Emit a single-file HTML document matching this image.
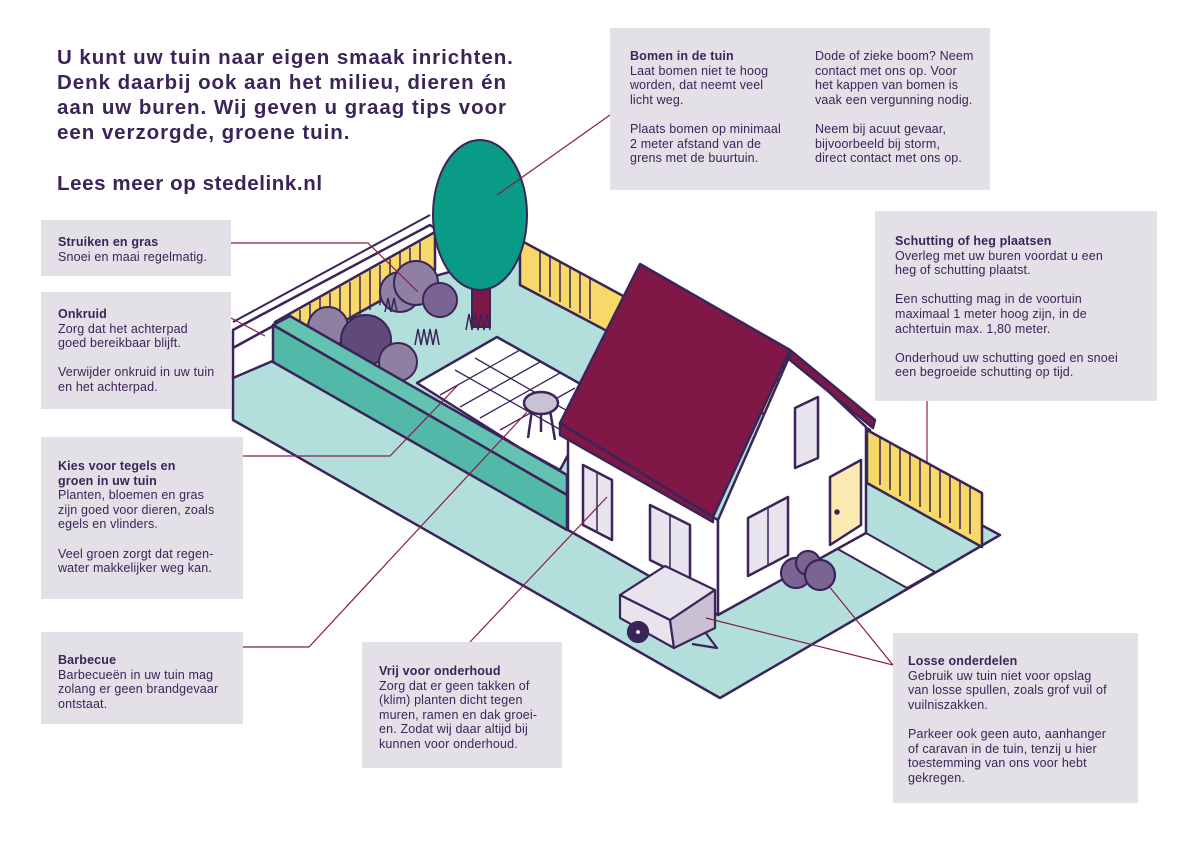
<!DOCTYPE html>
<html><head><meta charset="utf-8"><style>
body{margin:0;width:1191px;height:843px;background:#fff;position:relative;overflow:hidden;font-family:"Liberation Sans",sans-serif;color:#3b2458}
.b{position:absolute;background:#e3e0e8;font-size:12.5px;line-height:14.6px;padding:0 0 0 17px;box-sizing:border-box;white-space:nowrap;letter-spacing:0.15px}
.b b{font-weight:bold}
.b p{margin:0 0 14.6px 0}
h1{position:absolute;left:57px;top:45px;margin:0;font-size:20.5px;line-height:25px;font-weight:bold;color:#3b2458;white-space:nowrap;letter-spacing:0.95px}
.lees{position:absolute;left:57px;top:172px;font-size:20.5px;font-weight:bold;letter-spacing:0.6px}
svg{position:absolute;left:0;top:0}
</style></head><body>
<svg width="1191" height="843" viewBox="0 0 1191 843">
<g stroke="#3b2458" stroke-width="2.5" stroke-linejoin="round">
<polygon points="233,375 233,420 720,698 1000,535 985,527 520,252 280,320" fill="#b2dfdb"/>
<polygon points="233,330 430,225 440,232 275,325 233,348" fill="#fff"/>
<polygon points="233,348 275,325 275,360 233,378" fill="#fff"/>
<line x1="233" y1="322" x2="430" y2="215" stroke-width="2"/>
<polygon points="275,322 435,232 435,270 275,360" fill="#f7d96a"/>
<polygon points="520,240 870,430 870,470 520,285" fill="#f7d96a"/>
<polygon points="867,430 982,493 982,547 867,483" fill="#f7d96a"/>
<polygon points="836,548 866,533 935,572 907,588" fill="#fff" stroke-width="2"/>
</g>
<g stroke="#3b2458" stroke-width="1.5">
<path d="M290,315v40M300,310v40M310,304v40M320,298v40M330,293v40M340,287v40M350,282v40M360,276v40M370,270v40M380,265v40M390,259v40M400,253v40M410,248v40M420,242v40"/>
<path d="M540,252v40M550,257v40M560,262v40M570,268v40M580,273v40M590,279v40M880,437v48M890,442v48M900,448v48M910,453v48M920,459v48M930,464v48M940,470v48M950,475v48M960,481v48M970,486v48"/>
</g>
<g stroke="#3b2458" stroke-width="2">
<circle cx="400" cy="292" r="20" fill="#8f7fa3"/>
<circle cx="416" cy="283" r="22" fill="#8f7fa3"/>
<circle cx="440" cy="300" r="17" fill="#7a6592"/>
<circle cx="328" cy="327" r="20" fill="#8f7fa3"/>
<circle cx="366" cy="340" r="25" fill="#5f4a7a"/>
<circle cx="398" cy="362" r="19" fill="#8f7fa3"/>
<rect x="472" y="285" width="18" height="42" fill="#7f1846"/>
<ellipse cx="480" cy="215" rx="47" ry="75" fill="#0a9b87"/>
</g>
<g stroke="#3b2458" stroke-width="1.5" fill="none">
<path d="M415,345l3,-16l3,16l3,-16l3,16l3,-16l3,16l3,-16l3,16M466,330l3,-16l3,16l3,-16l3,16l3,-16l3,16l3,-16l3,16M385,312l3,-14l3,14l3,-14l3,14"/>
</g>
<g stroke="#3b2458" stroke-width="2.5" stroke-linejoin="round">
<polygon points="417,383 497,337 600,395 560,470 520,448" fill="#fff"/>
</g>
<g stroke="#3b2458" stroke-width="1.3">
<path d="M440,395l80,-45M460,407l80,-45M480,418l80,-45M500,430l75,-42M455,370l120,68M475,358l110,63"/>
</g>
<g stroke="#3b2458" stroke-width="2.5" stroke-linejoin="round">
<polygon points="273,325 290,316 567,475 567,495" fill="#64c2b2"/>
<polygon points="273,325 567,495 567,530 273,362" fill="#52b8a8"/>
<line x1="532" y1="410" x2="528" y2="438"/><line x1="550" y1="410" x2="555" y2="440"/><line x1="541" y1="412" x2="541" y2="432"/>
<ellipse cx="541" cy="403" rx="17" ry="11" fill="#c9c2d4"/>
<polygon points="568,438 718,520 718,615 568,530" fill="#fff"/>
<polygon points="718,520 790,355 866,427 866,533 718,615" fill="#fff"/>
<polygon points="790,350 875,420 873,428 790,360" fill="#7f1846"/>
<polygon points="640,264 790,350 713,517 560,423" fill="#7f1846"/>
<polygon points="560,423 713,517 713,522 560,435" fill="#7f1846"/>
<polygon points="583,465 612,480 612,540 583,525" fill="#e8e4ee"/>
<polygon points="650,505 690,525 690,580 650,560" fill="#e8e4ee"/>
<polygon points="795,408 818,397 818,458 795,468" fill="#e8e4ee"/>
<polygon points="748,518 788,497 788,555 748,576" fill="#e8e4ee"/>
<polygon points="830,477 861,460 861,525 830,545" fill="#fbeab2"/>
</g>
<g stroke="#3b2458" stroke-width="1.5" fill="none">
<path d="M597,472v60M670,515v55M768,507v58"/>
<circle cx="837" cy="512" r="2" fill="#3b2458"/>
</g>
<g stroke="#3b2458" stroke-width="2.2" stroke-linejoin="round">
<polygon points="620,595 665,566 715,590 670,620" fill="#e8e4ee"/>
<polygon points="620,595 670,620 674,648 620,618" fill="#e8e4ee"/>
<polygon points="670,620 715,590 715,628 674,648" fill="#c9c0d3"/>
<path d="M705,632l12,16l-25,-4" fill="none"/>
<circle cx="638" cy="632" r="10" fill="#3b2458"/><circle cx="638" cy="632" r="3" fill="#fff"/>
<circle cx="796" cy="573" r="15" fill="#7a6592"/>
<circle cx="808" cy="563" r="12" fill="#7a6592"/>
<circle cx="820" cy="575" r="15" fill="#7a6592"/>
</g>
<g stroke="#8a1c4f" stroke-width="1.2" fill="none">
<path d="M231,243H368L418,292"/>
<path d="M231,318L265,336"/>
<path d="M243,456H390L458,385"/>
<path d="M243,647H309L527,412"/>
<path d="M470,642L607,497"/>
<path d="M610,115L497,195"/>
<path d="M927,401V462"/>
<path d="M893,665L706,618M893,665L828,585"/>
</g>
</svg>
<h1>U kunt uw tuin naar eigen smaak inrichten.<br>Denk daarbij ook aan het milieu, dieren én<br>aan uw buren. Wij geven u graag tips voor<br>een verzorgde, groene tuin.</h1>
<div class="lees">Lees meer op stedelink.nl</div>
<div class="b" style="left:41px;top:220px;width:190px;height:56px;padding-top:15px"><b>Struiken en gras</b><br>Snoei en maai regelmatig.</div>
<div class="b" style="left:41px;top:292px;width:190px;height:117px;padding-top:15px"><p><b>Onkruid</b><br>Zorg dat het achterpad<br>goed bereikbaar blijft.</p><p>Verwijder onkruid in uw tuin<br>en het achterpad.</p></div>
<div class="b" style="left:41px;top:437px;width:202px;height:162px;padding-top:22px"><p><b>Kies voor tegels en<br>groen in uw tuin</b><br>Planten, bloemen en gras<br>zijn goed voor dieren, zoals<br>egels en vlinders.</p><p>Veel groen zorgt dat regen-<br>water makkelijker weg kan.</p></div>
<div class="b" style="left:41px;top:632px;width:202px;height:92px;padding-top:21px"><b>Barbecue</b><br>Barbecueën in uw tuin mag<br>zolang er geen brandgevaar<br>ontstaat.</div>
<div class="b" style="left:362px;top:642px;width:200px;height:126px;padding-top:22px"><b>Vrij voor onderhoud</b><br>Zorg dat er geen takken of<br>(klim) planten dicht tegen<br>muren, ramen en dak groei-<br>en. Zodat wij daar altijd bij<br>kunnen voor onderhoud.</div>
<div class="b" style="left:610px;top:28px;width:380px;height:162px">
<div style="position:absolute;left:20px;top:21px"><p><b>Bomen in de tuin</b><br>Laat bomen niet te hoog<br>worden, dat neemt veel<br>licht weg.</p><p>Plaats bomen op minimaal<br>2 meter afstand van de<br>grens met de buurtuin.</p></div>
<div style="position:absolute;left:205px;top:21px"><p>Dode of zieke boom? Neem<br>contact met ons op. Voor<br>het kappen van bomen is<br>vaak een vergunning nodig.</p><p>Neem bij acuut gevaar,<br>bijvoorbeeld bij storm,<br>direct contact met ons op.</p></div></div>
<div class="b" style="left:875px;top:211px;width:282px;height:190px;padding-top:23px;padding-left:20px"><p><b>Schutting of heg plaatsen</b><br>Overleg met uw buren voordat u een<br>heg of schutting plaatst.</p><p>Een schutting mag in de voortuin<br>maximaal 1 meter hoog zijn, in de<br>achtertuin max. 1,80 meter.</p><p>Onderhoud uw schutting goed en snoei<br>een begroeide schutting op tijd.</p></div>
<div class="b" style="left:893px;top:633px;width:245px;height:170px;padding-top:21px;padding-left:15px"><p><b>Losse onderdelen</b><br>Gebruik uw tuin niet voor opslag<br>van losse spullen, zoals grof vuil of<br>vuilniszakken.</p><p>Parkeer ook geen auto, aanhanger<br>of caravan in de tuin, tenzij u hier<br>toestemming van ons voor hebt<br>gekregen.</p></div>
</body></html>
